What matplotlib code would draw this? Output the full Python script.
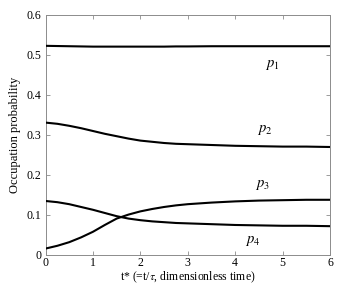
import matplotlib
matplotlib.use("Agg")
import matplotlib.pyplot as plt

plt.rcParams.update(
    {
        "font.family": "serif",
        "font.serif": ["Liberation Serif", "DejaVu Serif"],
        "mathtext.fontset": "stix",
    }
)

_frame = "#8c8c8c"
_fontsize = 9

t = [0, 0.25, 0.5, 0.75, 1.0, 1.25, 1.5, 1.75, 2.0, 2.25, 2.5, 2.75, 3.0,
     3.5, 4.0, 4.5, 5.0, 5.5, 6.0]
p1 = [0.522, 0.5215, 0.521, 0.5205, 0.520, 0.520, 0.520, 0.520, 0.520, 0.520,
      0.520, 0.5205, 0.5205, 0.521, 0.521, 0.521, 0.521, 0.521, 0.521]
p2 = [0.330, 0.327, 0.322, 0.316, 0.309, 0.302, 0.296, 0.290, 0.285, 0.282,
      0.279, 0.277, 0.276, 0.274, 0.272, 0.271, 0.270, 0.270, 0.269]
p3 = [0.015, 0.022, 0.031, 0.043, 0.057, 0.074, 0.090, 0.100, 0.108, 0.114,
      0.119, 0.123, 0.126, 0.130, 0.133, 0.135, 0.136, 0.137, 0.137]
p4 = [0.134, 0.131, 0.126, 0.119, 0.112, 0.104, 0.096, 0.090, 0.086, 0.083,
      0.081, 0.079, 0.078, 0.076, 0.074, 0.073, 0.072, 0.072, 0.071]

labels = [r"$p_{\mathit{1}}$", r"$p_{\mathit{2}}$", r"$p_{\mathit{3}}$", r"$p_{\mathit{4}}$"]
label_pos = [(4.78, 0.474), (4.63, 0.311), (4.57, 0.174), (4.36, 0.034)]

fig = plt.figure(figsize=(3.53, 2.87), dpi=100)
ax = fig.add_axes([0.129, 0.113, 0.806, 0.836])

for series in [p1, p2, p3, p4]:
    ax.plot(t, series, color="black", lw=1.5, zorder=3)

for lab, (x, y) in zip(labels, label_pos):
    ax.text(x, y, lab, fontsize=10.5, ha="center", va="center")

ax.set_xlim([0, 6])
ax.set_ylim([0, 0.6])
ax.set_xticks([0, 1, 2, 3, 4, 5, 6])
ax.set_yticks([0, 0.1, 0.2, 0.3, 0.4, 0.5, 0.6])
ax.set_yticklabels(["0", "0.1", "0.2", "0.3", "0.4", "0.5", "0.6"])

ax.tick_params(direction="in", top=True, right=True, length=3, width=0.6,
               color=_frame, labelsize=8.5, pad=3)
ax.tick_params(axis="x", pad=2)
for spine in ax.spines.values():
    spine.set_color(_frame)
    spine.set_linewidth(0.7)

ax.set_xlabel(r"t* (=t/$\tau$, dimensionless time)", fontsize=8.5, labelpad=0.5)
ax.set_ylabel("Occupation probability", fontsize=_fontsize, labelpad=4)

fig.savefig("out.png", dpi=100)
